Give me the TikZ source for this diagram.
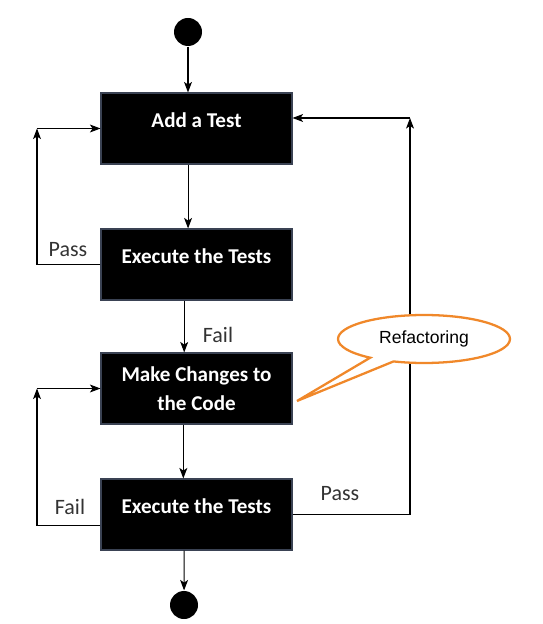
\documentclass[tikz,border=0pt]{standalone}
\usepackage{fontspec}
\setmainfont{Carlito}
\newfontfamily\calloutfont{Liberation Sans}
\usetikzlibrary{
    arrows.meta,
    positioning,
    shapes.callouts
}
\definecolor{boxedge}{HTML}{3A4253}
\definecolor{calloutorange}{HTML}{F0882A}
\definecolor{labelgray}{HTML}{333333}

\begin{document}
\begin{tikzpicture}[x=0.02cm, y=-0.02cm, line width=0.6pt,
    >={Stealth[length=6pt,width=4.5pt,inset=1.5pt]},
    stepbox/.style={draw=boxedge, fill=black, text=white, inner sep=0pt, align=center,
        minimum width=3.82cm, minimum height=1.42cm,
        font=\fontsize{12}{16.4}\selectfont\bfseries},
    onerow/.style={text depth=9pt},
    terminal/.style={circle, fill=black, minimum size=0.56cm, inner sep=0pt},
    outcome/.style={text=labelgray, font=\fontsize{12.5}{15}\selectfont}]
    \useasboundingbox (0,0) rectangle (542,624);

    \node[terminal] (start) at (188,32) {};
    \node[stepbox, onerow] (add) at (196.5,128.5) {Add a Test};
    \node[stepbox, onerow] (run1) at (196.5,264.5) {Execute the Tests};
    \node[stepbox] (change) at (196.5,388.5) {Make Changes to\\the Code};
    \node[stepbox, onerow] (run2) at (196.5,514.5) {Execute the Tests};
    \node[terminal] (stop) at (184,605) {};

    \coordinate (lp1) at (37,128.5);
    \coordinate (lp2) at (37,388.5);
    \coordinate (rp) at (410,118);

    \draw[->] (start) -- (start |- add.north);
    \draw[->] ([xshift=-4.8pt]add.south) -- ([xshift=-4.8pt]run1.north);
    \draw[->] ([xshift=-7pt]run1.south) -- ([xshift=-7pt]change.north);
    \draw[->] ([xshift=-7.5pt]change.south) -- ([xshift=-7.5pt]run2.north);
    \draw[->] ([xshift=-7pt]run2.south) -- (stop);

    \draw[->] (run1.west) -| (lp1);
    \draw[->] (lp1) -- (add.west);
    \draw[->] ([yshift=-6pt]run2.west) -| (lp2);
    \draw[->] (lp2) -- (change.west);
    \draw[->] (run2.east) -| (rp);
    \draw[->] (rp) -- (rp -| add.east);

    \node[outcome] (pass1) at (68,250) {Pass};
    \node[outcome] (fail1) at (218,335) {Fail};
    \node[outcome] (fail2) at (70,507) {Fail};
    \node[outcome] (pass2) at (340,494) {Pass};

    \node[ellipse callout, draw=calloutorange, line width=1.3pt, fill=white,
        minimum width=3.44cm, minimum height=0.96cm,
        callout absolute pointer={(297,401)}, callout pointer arc=18,
        font=\calloutfont\fontsize{10}{12}\selectfont] (refac) at (424,339) {Refactoring};
\end{tikzpicture}
\end{document}
